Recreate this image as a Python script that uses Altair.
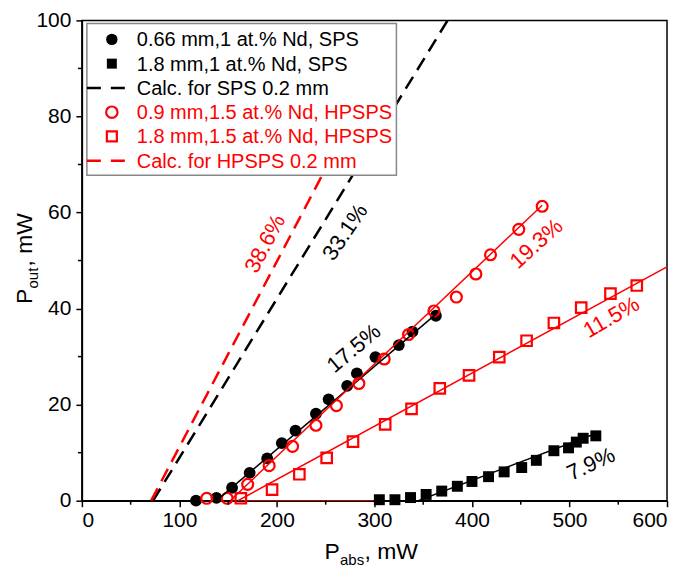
import altair as alt
import pandas as pd

# ---------------- data ----------------
sps066_x = [117, 138, 154, 172, 190, 205, 219, 240, 253, 272, 282, 301, 325, 339, 363]
sps066_y = [0.0, 0.6, 2.7, 5.8, 8.8, 12.0, 14.6, 18.1, 21.1, 23.9, 26.5, 29.9, 32.4, 35.2, 38.5]

sps18_x = [305, 321, 337, 353, 369, 385, 400, 417, 433, 451, 466, 484, 499, 507, 514, 527]
sps18_y = [0.2, 0.2, 0.65, 1.3, 2.0, 3.0, 4.0, 5.0, 6.0, 6.9, 8.4, 10.4, 11.0, 12.2, 13.0, 13.5]

hp09_x = [128, 149, 170, 192, 216, 240, 261, 284, 310, 335, 361, 384, 404, 419, 448, 472]
hp09_y = [0.5, 0.5, 3.4, 7.3, 11.3, 15.7, 19.8, 24.4, 29.5, 34.6, 39.5, 42.4, 47.2, 51.2, 56.5, 61.3]

hp18_x = [163, 195, 223, 251, 278, 311, 338, 367, 397, 428, 456, 484, 512, 542, 569]
hp18_y = [0.5, 2.3, 5.5, 8.9, 12.3, 15.9, 19.1, 23.4, 26.1, 29.9, 33.3, 37.0, 40.2, 43.1, 44.8]

# fitted / calculated lines (end points)
fit_sps066_x = [138, 364]
fit_sps066_y = [0, 39.0]
fit_sps18_x = [345, 527]
fit_sps18_y = [0, 14.0]
fit_hp09_x = [152, 472]
fit_hp09_y = [0, 61.5]
fit_hp18_x = [160, 600]
fit_hp18_y = [0, 48.7]
base_red_x = [160, 300]
base_red_y = [0, 0]
calc_sps_x = [73, 375]
calc_sps_y = [0, 100]
calc_hp_x = [71, 291]
calc_hp_y = [0, 85]

# slope annotations
ann_text = ["38.6%", "33.1%", "17.5%", "19.3%", "11.5%", "7.9%"]
ann_x = [188, 270, 279, 466, 543, 522]
ann_y = [53.5, 55.9, 31.7, 53.5, 38.2, 7.6]
ann_angle = [298, 304, 320, 318, 330, 335]
ann_color = ["red", "black", "black", "red", "red", "black"]

legend_labels = [
    "0.66 mm,1 at.% Nd, SPS",
    "1.8 mm,1 at.% Nd, SPS",
    "Calc. for SPS 0.2 mm",
    "0.9 mm,1.5 at.% Nd, HPSPS",
    "1.8 mm,1.5 at.% Nd, HPSPS",
    "Calc. for HPSPS 0.2 mm",
]
legend_colors = ["black", "black", "black", "red", "red", "red"]

x_ticks = [0, 100, 200, 300, 400, 500, 600]
x_minor = [50, 150, 250, 350, 450, 550]
y_ticks = [0, 20, 40, 60, 80, 100]
y_minor = [10, 30, 50, 70, 90]

# ---------------- chart ----------------
W, H = 586, 481
FONT = "Liberation Sans"

xs = alt.Scale(domain=[0, 600], nice=False)
ys = alt.Scale(domain=[0, 100], nice=False)
X = lambda: alt.X("x:Q", scale=xs, axis=alt.Axis(values=x_ticks, title=None, labelPadding=3))
Y = lambda: alt.Y("y:Q", scale=ys, axis=alt.Axis(values=y_ticks, title=None, labelPadding=5))


def df(xv, yv):
    return pd.DataFrame({"x": xv, "y": yv})


def line(xv, yv, color, width=1.5, dash=None):
    kw = dict(color=color, strokeWidth=width, clip=True)
    if dash:
        kw["strokeDash"] = dash
    return alt.Chart(df(xv, yv)).mark_line(**kw).encode(x=X(), y=Y())


def points(xv, yv, color, shape, filled, size):
    if filled:
        m = alt.Chart(df(xv, yv)).mark_point(shape=shape, filled=True, color=color, size=size, opacity=1)
    else:
        m = alt.Chart(df(xv, yv)).mark_point(shape=shape, filled=False, color=color, size=size,
                                             strokeWidth=2.2, opacity=1)
    return m.encode(x=X(), y=Y())


one = pd.DataFrame({"d": [0]})

layers = []
DASH = [14, 8]
layers.append(line(calc_sps_x, calc_sps_y, "black", 2.5, DASH))
layers.append(line(calc_hp_x, calc_hp_y, "red", 2.5, DASH))
layers.append(line(base_red_x, base_red_y, "red", 1.2))
layers.append(line(fit_sps18_x, fit_sps18_y, "black", 1.5))
layers.append(line(fit_hp18_x, fit_hp18_y, "red", 1.5))
layers.append(points(sps066_x, sps066_y, "black", "circle", True, 140))
layers.append(points(sps18_x, sps18_y, "black", "square", True, 120))
layers.append(points(hp18_x, hp18_y, "red", "square", False, 110))
layers.append(points(hp09_x, hp09_y, "red", "circle", False, 120))
layers.append(line(fit_sps066_x, fit_sps066_y, "black", 1.5))
layers.append(line(fit_hp09_x, fit_hp09_y, "red", 1.5))

# slope annotations
for t, xv, yv, a, c in zip(ann_text, ann_x, ann_y, ann_angle, ann_color):
    layers.append(
        alt.Chart(pd.DataFrame({"x": [xv], "y": [yv], "t": [t]}))
        .mark_text(font=FONT, fontSize=22, color=c, angle=a, align="center", baseline="middle")
        .encode(x=X(), y=Y(), text="t:N")
    )

# legend box
layers.append(
    alt.Chart(one).mark_rect(fill="white", stroke="#888888", strokeWidth=1.5).encode(
        x=alt.value(5), x2=alt.value(315), y=alt.value(3), y2=alt.value(155)
    )
)
row_y0, row_dy = 19, 24.3
sym_x, txt_x = 30, 55
for i, (lab, col) in enumerate(zip(legend_labels, legend_colors)):
    yy = row_y0 + i * row_dy
    if i in (2, 5):
        layers.append(
            alt.Chart(one).mark_rule(color=col, strokeWidth=2.5, strokeDash=[14, 10]).encode(
                x=alt.value(sym_x - 25), x2=alt.value(sym_x + 17), y=alt.value(yy)
            )
        )
    else:
        shape = "circle" if i in (0, 3) else "square"
        filled = i in (0, 1)
        layers.append(
            alt.Chart(one).mark_point(shape=shape, filled=filled, color=col, opacity=1,
                                      size=130 if shape == "circle" else 100,
                                      strokeWidth=2.2).encode(x=alt.value(sym_x), y=alt.value(yy))
        )
    layers.append(
        alt.Chart(pd.DataFrame({"t": [lab]})).mark_text(font=FONT, fontSize=20, color=col, align="left",
                                                     baseline="middle").encode(
            x=alt.value(txt_x), y=alt.value(yy + 1), text="t:N"
        )
    )

# minor ticks
layers.append(
    alt.Chart(pd.DataFrame({"x": x_minor})).mark_rule(color="black", strokeWidth=1.5).encode(
        x=X(), y=alt.value(H), y2=alt.value(H + 4)
    )
)
layers.append(
    alt.Chart(pd.DataFrame({"y": y_minor})).mark_rule(color="black", strokeWidth=1.5).encode(
        y=Y(), x=alt.value(0), x2=alt.value(-4)
    )
)

# axis titles with subscripts
def txt(s, x, y, size, angle=0):
    return alt.Chart(one).mark_text(font=FONT, fontSize=size, color="black", align="left",
                                    baseline="alphabetic", angle=angle).encode(
        x=alt.value(x), y=alt.value(y), text=alt.value(s)
    )

bx, by = 243, 539
layers.append(txt("P", bx, by, 23))
layers.append(txt("abs", bx + 15.5, by + 6, 15))
layers.append(txt(", mW", bx + 40, by, 23))

lx, ly = -50, 284
layers.append(txt("P", lx, ly, 23, 270))
layers.append(txt("out", lx + 6, ly - 15.5, 15, 270))
layers.append(txt(", mW", lx, ly - 37.5, 23, 270))

chart = (
    alt.layer(*layers)
    .properties(
        width=W,
        height=H,
        autosize=alt.AutoSizeParams(type="none"),
        padding={"left": 74, "top": 12, "right": 10, "bottom": 74},
    )
    .configure_view(stroke="black", strokeWidth=1.5)
    .configure_axis(
        grid=False,
        labelFont=FONT,
        labelFontSize=21,
        labelColor="black",
        tickColor="black",
        tickSize=6,
        tickWidth=1.5,
        domainColor="black",
        domainWidth=1.5,
    )
)

chart.save("out.html", embed_options={"renderer": "svg", "actions": False})
